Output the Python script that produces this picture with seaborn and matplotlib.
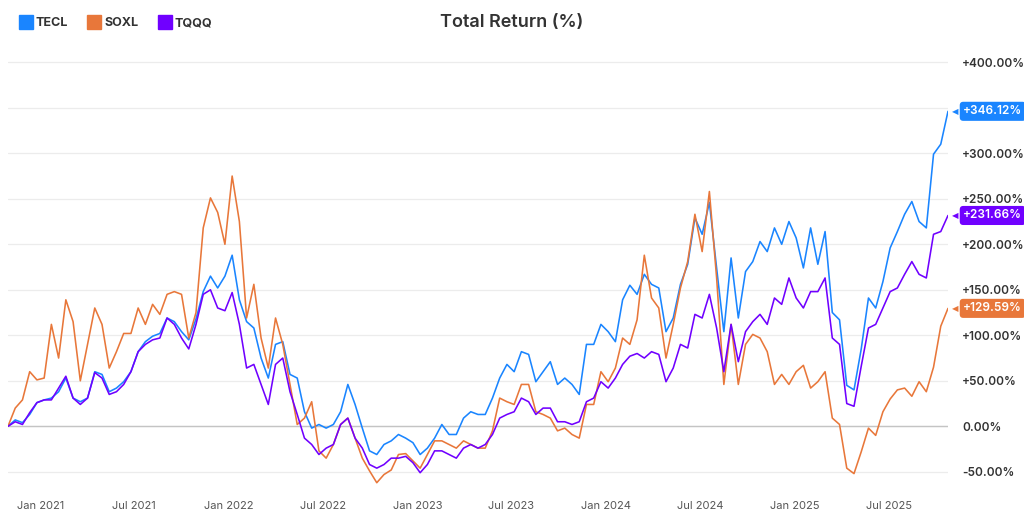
import matplotlib
matplotlib.use("Agg")
import matplotlib.pyplot as plt
import matplotlib.dates as mdates
from matplotlib.ticker import FuncFormatter, MultipleLocator
from matplotlib.lines import Line2D
import pandas as pd
import seaborn as sns

# dates every two weeks, last one is the end of the chart
dates = pd.date_range(end="2025-10-24", periods=131, freq="14D")

tecl = [0, 7, 4, 13, 26, 29, 31, 38, 53, 31, 27, 31, 60, 57, 38, 42, 49, 60, 82, 93,
        99, 102, 119, 115, 104, 95, 118, 148, 165, 152, 165, 188, 139, 115, 108, 75, 53, 90, 93, 57,
        53, 16, -2, 2, -2, 2, 16, 46, 24, -2, -27, -31, -20, -16, -9, -13, -18, -31, -24, -13,
        2, -9, -9, 9, 16, 13, 13, 31, 53, 68, 60, 82, 79, 49, 60, 71, 46, 53, 46, 35,
        90, 90, 112, 104, 93, 139, 155, 145, 167, 156, 152, 104, 119, 156, 178, 229, 211, 246, 174, 104,
        185, 119, 170, 181, 203, 192, 218, 200, 225, 207, 174, 218, 178, 214, 125, 117, 45, 40, 85, 141,
        130, 159, 196, 214, 233, 247, 225, 218, 299, 310, 346.12]

soxl = [0, 20, 29, 60, 51, 53, 112, 75, 139, 115, 50, 90, 130, 112, 64, 82, 102, 102, 130, 112,
        134, 123, 145, 148, 145, 97, 125, 218, 251, 235, 200, 275, 225, 119, 156, 97, 64, 119, 90, 46,
        2, 9, 27, -27, -35, -20, 2, 9, -13, -35, -49, -62, -53, -48, -31, -30, -38, -46, -31, -16,
        -16, -20, -24, -16, -20, -24, -24, -5, 31, 27, 24, 46, 46, 16, 13, 9, -5, -2, -9, -13,
        24, 24, 60, 49, 64, 97, 90, 117, 188, 141, 130, 75, 112, 152, 181, 233, 192, 258, 163, 46,
        112, 46, 90, 101, 97, 82, 46, 57, 46, 60, 67, 42, 49, 60, 9, 2, -46, -52, -28, -2,
        -10, 16, 30, 40, 42, 33, 49, 38, 65, 110, 129.59]

tqqq = [0, 5, 2, 15, 26, 29, 29, 42, 55, 31, 24, 31, 59, 53, 35, 38, 46, 60, 82, 90,
        95, 97, 119, 112, 97, 85, 112, 145, 150, 130, 127, 147, 112, 64, 68, 46, 24, 68, 75, 38,
        13, -13, -20, -31, -24, -20, 2, 9, -13, -24, -42, -46, -42, -35, -35, -33, -40, -51, -42, -27,
        -27, -31, -35, -24, -20, -24, -20, -9, 9, 13, 16, 31, 27, 13, 20, 20, 5, 5, 2, 5,
        27, 31, 49, 42, 53, 68, 77, 80, 75, 82, 79, 49, 64, 90, 86, 123, 119, 145, 108, 60,
        112, 71, 104, 115, 123, 112, 141, 134, 163, 141, 130, 148, 148, 163, 97, 90, 25, 22, 66, 108,
        112, 130, 148, 152, 167, 181, 167, 163, 211, 214, 231.66]

tickers = ["TECL", "SOXL", "TQQQ"]
colors = ["#1a85ff", "#e8773a", "#7000ff"]

df = pd.DataFrame({"Date": dates, "TECL": tecl, "SOXL": soxl, "TQQQ": tqqq})
long_df = df.melt(id_vars="Date", var_name="Ticker", value_name="Return")

sns.set_style("white")
plt.rcParams["font.family"] = ["Inter", "DejaVu Sans"]

fig = plt.figure(figsize=(10.24, 5.15), dpi=100)
ax = fig.add_axes([8 / 1024, 1 - 490 / 515, 940 / 1024, 435 / 515])

sns.lineplot(data=long_df, x="Date", y="Return", hue="Ticker", hue_order=tickers,
             palette=colors, linewidth=1.15, ax=ax, legend=False)

ax.set_xlim(dates[0], dates[-1])
ax.set_ylim(-70, 408)
ax.set_xlabel("")
ax.set_ylabel("")

# grid + zero line
ax.yaxis.set_major_locator(MultipleLocator(50))
ax.grid(axis="y", color="#ececec", linewidth=0.9)
ax.grid(axis="x", visible=False)
ax.axhline(0, color="#c4c4c4", linewidth=1.0, zorder=1)
for s in ax.spines.values():
    s.set_visible(False)

# right hand y labels
def pct(v, pos):
    if v > 0:
        return f"+{v:.2f}%"
    return f"{v:.2f}%"

ax.yaxis.tick_right()
ax.yaxis.set_major_formatter(FuncFormatter(pct))
ax.tick_params(axis="y", length=0, pad=10, labelsize=8.5, labelcolor="#333333")
for lbl in ax.get_yticklabels():
    lbl.set_fontweight("semibold")

# x axis: Jan / Jul
ax.xaxis.set_major_locator(mdates.MonthLocator(bymonth=[1, 7]))
ax.xaxis.set_major_formatter(mdates.DateFormatter("%b %Y"))
ax.tick_params(axis="x", length=0, pad=8, labelsize=8, labelcolor="#555555")

# end value tags
for t, c in zip(tickers, colors):
    last = df[t].iloc[-1]
    ax.annotate(f"+{last:.2f}%", xy=(df["Date"].iloc[-1], last), xytext=(11, 0),
                textcoords="offset points", va="center", ha="left", color="white",
                fontsize=8.5, fontweight="semibold", annotation_clip=False,
                bbox=dict(boxstyle="round,pad=0.3,rounding_size=0.3", fc=c, ec="none"))
    ax.annotate("\u25c0", xy=(df["Date"].iloc[-1], last), xytext=(3, 0),
                textcoords="offset points", va="center", ha="left", color=c,
                fontsize=6, annotation_clip=False, family="DejaVu Sans")

fig.suptitle("Total Return (%)", x=0.5, y=0.972, fontsize=13, fontweight="semibold", color="#333333")

handles = [Line2D([], [], marker="s", linestyle="", markersize=10, color=c) for c in colors]
leg = fig.legend(handles, tickers, loc="upper left", bbox_to_anchor=(0.008, 0.988), ncol=3,
                 frameon=False, handletextpad=0.3, columnspacing=1.6, handlelength=1.0,
                 prop={"weight": "bold", "size": 9})
for txt in leg.get_texts():
    txt.set_color("#333333")

fig.savefig("out.png", dpi=100)
